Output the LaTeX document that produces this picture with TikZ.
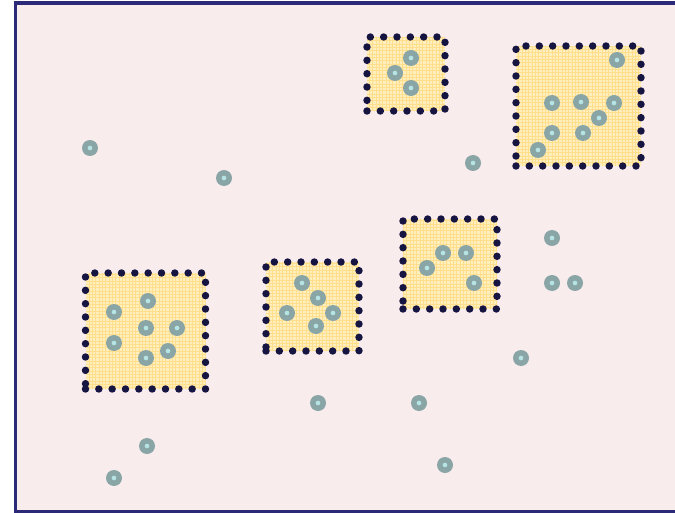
\documentclass[tikz,border=0pt]{standalone}
\usepackage{xcolor}
\usepackage{tikz}
\usetikzlibrary{positioning, decorations.markings}
\definecolor{mybg}{RGB}{249,236,236}
\definecolor{myframe}{RGB}{44,42,120}
\definecolor{mydot}{RGB}{22,20,64}
\definecolor{myfill}{RGB}{255,238,190}
\definecolor{mygrid}{RGB}{255,222,140}
\definecolor{myring}{RGB}{138,165,166}
\definecolor{mycore}{RGB}{182,228,228}
\tikzset{
  region/.style={rectangle, fill=myfill, inner sep=0pt,
    path picture={\draw[mygrid, line width=0.4pt, step=0.1cm]
      (path picture bounding box.south west) grid (path picture bounding box.north east);},
    postaction={decorate, decoration={markings,
      mark=between positions 0 and 1 step 0.4cm with {\fill[mydot] (0,0) circle[radius=0.112cm];}}}},
  unit/.style={circle, fill=myring, minimum size=0.48cm, inner sep=0pt,
    path picture={\fill[mycore] (path picture bounding box.center) circle[radius=0.07cm];}}
}

\begin{document}
\begin{tikzpicture}[x=0.03cm, y=-0.03cm]
  \useasboundingbox (0,0) rectangle (675,513);
  \clip (0,0) rectangle (675,513);
  \fill[mybg] (15.5,3) rectangle (675,511.5);
  \draw[myframe, line width=2.6pt] (680,3) -- (15.5,3) -- (15.5,511.5) -- (680,511.5);

  % regions
  \node[region, minimum width=78*0.03cm, minimum height=74*0.03cm] (b1) at (406,74) {};
  \node[region, minimum width=125*0.03cm, minimum height=120*0.03cm] (b2) at (578.5,106) {};
  \node[region, minimum width=94*0.03cm, minimum height=90*0.03cm] (b3) at (450,264) {};
  \node[region, minimum width=93*0.03cm, minimum height=89*0.03cm] (b4) at (312.5,306.5) {};
  \node[region, minimum width=120*0.03cm, minimum height=116*0.03cm] (b5) at (145.5,331) {};

  % units inside b1
  \node[unit] (a1) at (411,58) {};
  \node[unit] (a2) at (395,73) {};
  \node[unit] (a3) at (411,88) {};
  % units inside b2
  \node[unit] (r1) at (617,60) {};
  \node[unit] (r2) at (552,103) {};
  \node[unit] (r3) at (581,102) {};
  \node[unit] (r4) at (614,103) {};
  \node[unit] (r5) at (599,118) {};
  \node[unit] (r6) at (552,133) {};
  \node[unit] (r7) at (583,133) {};
  \node[unit] (r8) at (538,150) {};
  % units inside b3
  \node[unit] (m1) at (443,253) {};
  \node[unit] (m2) at (466,253) {};
  \node[unit] (m3) at (427,268) {};
  \node[unit] (m4) at (474,283) {};
  % units inside b4
  \node[unit] (c1) at (302,283) {};
  \node[unit] (c2) at (318,298) {};
  \node[unit] (c3) at (287,313) {};
  \node[unit] (c4) at (333,313) {};
  \node[unit] (c5) at (316,326) {};
  % units inside b5
  \node[unit] (l1) at (148,301) {};
  \node[unit] (l2) at (114,312) {};
  \node[unit] (l3) at (146,328) {};
  \node[unit] (l4) at (177,328) {};
  \node[unit] (l5) at (114,343) {};
  \node[unit] (l6) at (168,351) {};
  \node[unit] (l7) at (146,358) {};
  % free units
  \node[unit] (f1) at (90,148) {};
  \node[unit] (f2) at (224,178) {};
  \node[unit] (f3) at (473,163) {};
  \node[unit] (f4) at (552,238) {};
  \node[unit] (f5) at (552,283) {};
  \node[unit] (f6) at (575,283) {};
  \node[unit] (f7) at (521,358) {};
  \node[unit] (f8) at (318,403) {};
  \node[unit] (f9) at (419,403) {};
  \node[unit] (f10) at (147,446) {};
  \node[unit] (f11) at (114,478) {};
  \node[unit] (f12) at (445,465) {};

\end{tikzpicture}
\end{document}
